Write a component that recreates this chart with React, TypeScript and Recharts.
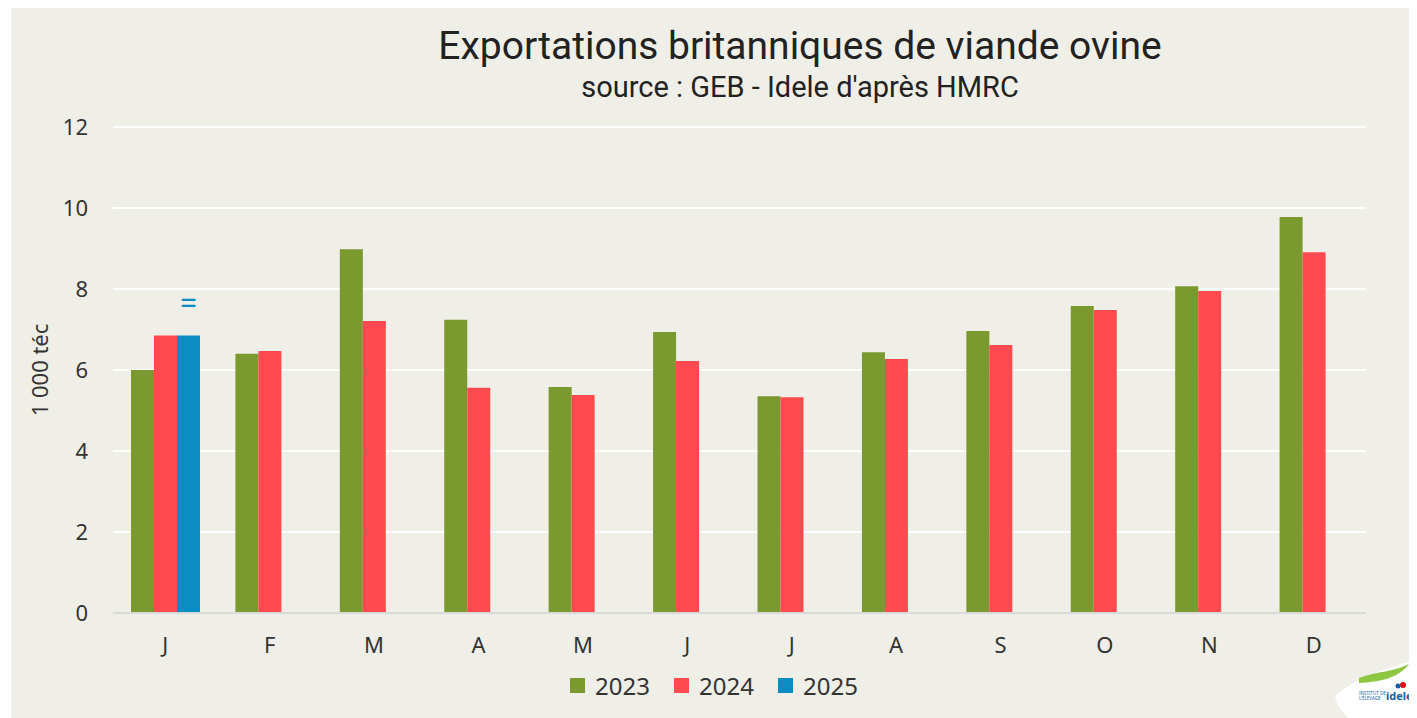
import React from "react";
import { BarChart, Bar, XAxis, YAxis, CartesianGrid, Legend, LabelList } from "recharts";

const months = ["J", "F", "M", "A", "M", "J", "J", "A", "S", "O", "N", "D"];
const exports2023 = [6.0, 6.4, 8.98, 7.24, 5.58, 6.94, 5.35, 6.44, 6.96, 7.58, 8.07, 9.78];
const exports2024 = [6.85, 6.47, 7.21, 5.56, 5.38, 6.22, 5.33, 6.27, 6.62, 7.48, 7.95, 8.91];
const exports2025 = [6.85, null, null, null, null, null, null, null, null, null, null, null];
const labels2025 = ["=", null, null, null, null, null, null, null, null, null, null, null];
const yTicks = [0, 2, 4, 6, 8, 10, 12];

const COLORS = { y2023: "#7A992E", y2024: "#FF4B50", y2025: "#0A8DC3" };
const BG = "#EFEFE7";
const FONT = "'Noto Sans', 'Open Sans', sans-serif";
const TFONT = "'Roboto', sans-serif";

const data = months.map((m, i) => ({
  key: `${m}${i}`,
  month: m,
  y2023: exports2023[i],
  y2024: exports2024[i],
  y2025: exports2025[i],
  lab: labels2025[i],
}));

const W = 1406;
const H = 710;

const LegendContent = (props: any) => {
  const items = props.payload || [];
  return (
    <div style={{ display: "flex", justifyContent: "center", alignItems: "center", fontFamily: FONT, fontSize: 24, color: "#333" }}>
      {items.map((it: any) => (
        <div key={it.value} style={{ display: "flex", alignItems: "center", margin: "0 12px" }}>
          <div style={{ width: 15, height: 15, background: it.color, marginRight: 10 }} />
          <span>{it.value}</span>
        </div>
      ))}
    </div>
  );
};

export default function App() {
  return (
    <div style={{ position: "relative", width: W, height: H, marginLeft: 3, background: BG, overflow: "hidden" }}>
      <div style={{ position: "absolute", left: 0, width: 1578, top: 16, textAlign: "center", fontFamily: TFONT, fontSize: 39, color: "#222", lineHeight: "44px", whiteSpace: "nowrap" }}>
        Exportations britanniques de viande ovine
      </div>
      <div style={{ position: "absolute", left: 0, width: 1578, top: 62, textAlign: "center", fontFamily: TFONT, fontSize: 29, color: "#222", lineHeight: "34px", whiteSpace: "nowrap" }}>
        source : GEB - Idele d'après HMRC
      </div>
      <BarChart
        width={W}
        height={H}
        data={data}
        margin={{ top: 119, right: 51, bottom: 42, left: 0 }}
        barGap={0}
        style={{ position: "absolute", left: 0, top: 0 }}
      >
        <CartesianGrid vertical={false} stroke="#FFFFFF" strokeWidth={2} />
        <XAxis
          dataKey="key"
          tickFormatter={(v: string, i: number) => months[i]}
          tickLine={false}
          tickSize={0}
          tickMargin={24}
          axisLine={{ stroke: "#D9D9D9", strokeWidth: 2 }}
          tick={{ fontFamily: FONT, fontSize: 22, fill: "#333" }}
          interval={0}
        />
        <YAxis
          width={102}
          domain={[0, 12]}
          ticks={yTicks}
          tickLine={false}
          axisLine={false}
          tickSize={0}
          tickMargin={25}
          tick={{ fontFamily: FONT, fontSize: 22, fill: "#333" }}
          label={{ value: "1 000 téc", angle: -90, position: "center", dx: -22, style: { fontFamily: FONT, fontSize: 22, fill: "#333" } }}
        />
        <Legend verticalAlign="bottom" content={<LegendContent />} wrapperStyle={{ left: 0, width: W, bottom: 16 }} />
        <Bar dataKey="y2023" name="2023" fill={COLORS.y2023} barSize={23} isAnimationActive={false} />
        <Bar dataKey="y2024" name="2024" fill={COLORS.y2024} barSize={23} isAnimationActive={false} />
        <Bar dataKey="y2025" name="2025" fill={COLORS.y2025} barSize={23} isAnimationActive={false}>
          <LabelList dataKey="lab" position="top" offset={22} style={{ fontFamily: FONT, fontSize: 30, fill: COLORS.y2025 }} />
        </Bar>
      </BarChart>
      <svg width={82} height={62} style={{ position: "absolute", left: 1324, top: 648 }}>
        <path d="M0,40 C20,22 55,10 82,4 L82,62 L14,62 C6,56 2,48 0,40 Z" fill="#FFFFFF" />
        <path d="M24,22 C42,15 60,16 74,8 C64,22 44,26 24,27 Z" fill="#8DC63F" />
        <circle cx={68} cy={29} r={3} fill="#E30613" />
        <circle cx={63} cy={30} r={2.5} fill="#1A5FA8" />
        <text x={24} y={39} fontSize={4.5} fill="#1A5FA8" fontFamily={FONT}>INSTITUT DE</text>
        <text x={24} y={44} fontSize={4.5} fill="#1A5FA8" fontFamily={FONT}>L'ÉLEVAGE</text>
        <text x={51} y={44} fontSize={11} fontWeight={700} fill="#1A5FA8" fontFamily={FONT}>idele</text>
      </svg>
    </div>
  );
}
